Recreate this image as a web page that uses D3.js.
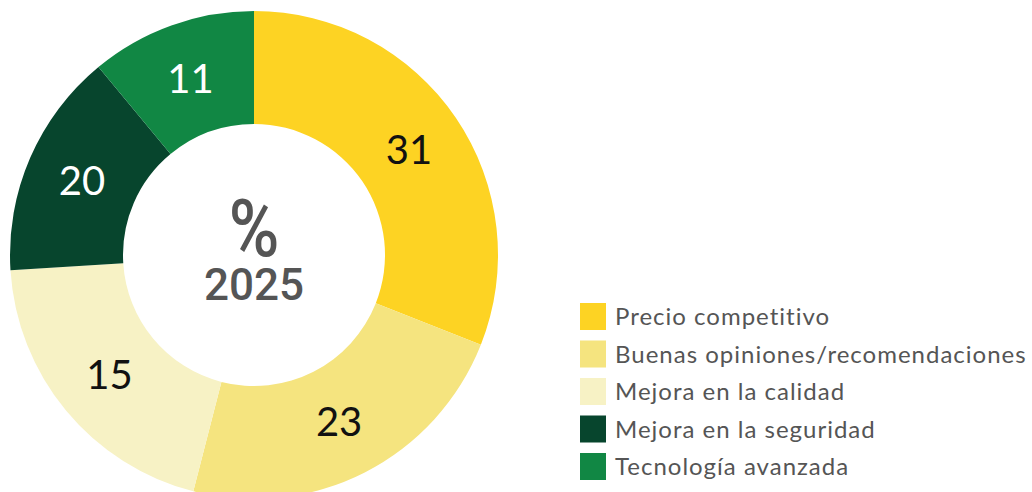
<!DOCTYPE html>
<html lang="es">
<head>
<meta charset="utf-8">
<title>Donut 2025</title>
<script src="https://d3js.org/d3.v7.min.js"></script>
<style>
  html, body { margin: 0; padding: 0; background: #fff; }
  svg { display: block; }
</style>
</head>
<body>
<script>
  // datos
  const categories = ["Precio competitivo", "Buenas opiniones/recomendaciones", "Mejora en la calidad", "Mejora en la seguridad", "Tecnología avanzada"];
  // tamaño de los arcos tal como aparecen en la figura
  const shares = [31, 23, 20, 15, 11];
  // cifras impresas sobre cada arco
  const labels = ["31", "23", "15", "20", "11"];
  const colors = ["#FDD323", "#F5E47F", "#F7F2C5", "#07452D", "#118744"];
  const labelColors = ["#111", "#111", "#111", "#fff", "#fff"];
  const centerLines = ["%", "2025"];

  const width = 1032;
  const height = 492;
  const cx = 254, cy = 255;
  const outerR = 244, innerR = 131;

  const data = categories.map((c, i) => ({ name: c, value: shares[i], label: labels[i], color: colors[i], lc: labelColors[i] }));

  const svg = d3.select("body").append("svg")
    .attr("width", width)
    .attr("height", height)
    .attr("viewBox", [0, 0, width, height]);

  const pie = d3.pie().sort(null).value(d => d.value);
  const arc = d3.arc().innerRadius(innerR).outerRadius(outerR);

  const g = svg.append("g").attr("transform", `translate(${cx},${cy})`);

  const arcs = pie(data);

  g.selectAll("path")
    .data(arcs)
    .join("path")
    .attr("d", arc)
    .attr("fill", d => d.data.color);

  g.selectAll("text.val")
    .data(arcs)
    .join("text")
    .attr("class", "val")
    .attr("transform", d => `translate(${arc.centroid(d)})`)
    .attr("text-anchor", "middle")
    .attr("dy", "0.36em")
    .attr("fill", d => d.data.lc)
    .style("font-family", "Lato, sans-serif")
    .style("font-size", "40px")
    .text(d => d.data.label);

  // texto central
  g.append("text")
    .attr("text-anchor", "middle")
    .attr("transform", "translate(0,1) scale(0.86,1)")
    .attr("fill", "#555")
    .style("font-family", "Roboto, sans-serif")
    .style("font-size", "80px")
    .style("font-weight", "500")
    .text(centerLines[0]);

  g.append("text")
    .attr("text-anchor", "middle")
    .attr("y", 45)
    .attr("fill", "#555")
    .style("font-family", "Roboto, sans-serif")
    .style("font-size", "44px")
    .style("font-weight", "500")
    .text(centerLines[1]);

  // leyenda
  const legend = svg.append("g").attr("transform", "translate(580,303)");
  const row = legend.selectAll("g")
    .data(data)
    .join("g")
    .attr("transform", (d, i) => `translate(0,${i * 37.5})`);

  row.append("rect")
    .attr("width", 26)
    .attr("height", 27)
    .attr("fill", d => d.color);

  row.append("text")
    .attr("x", 35)
    .attr("y", 13.5)
    .attr("dy", "0.36em")
    .attr("fill", "#555")
    .style("font-family", "Lato, sans-serif")
    .style("font-size", "24px")
    .style("letter-spacing", "1px")
    .text(d => d.name);
</script>
</body>
</html>
